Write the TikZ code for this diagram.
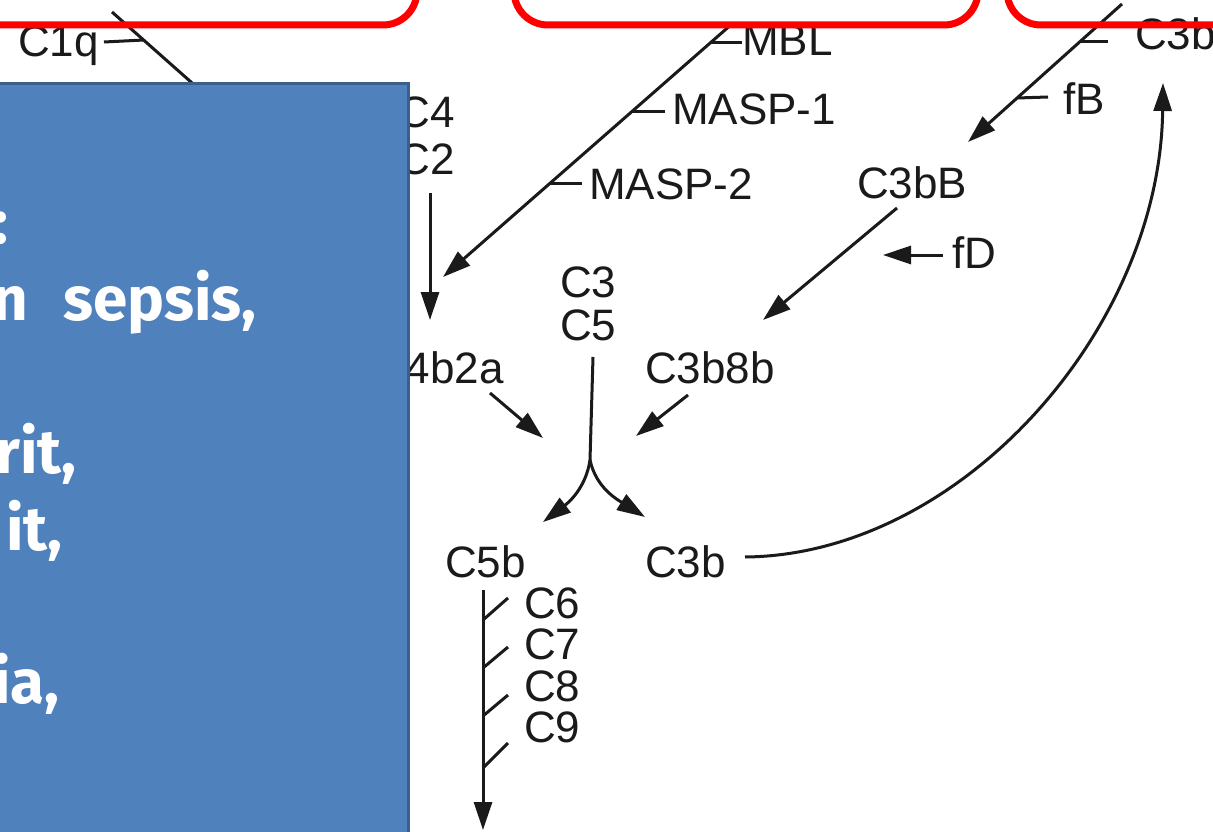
\documentclass[tikz,border=0pt]{standalone}
\usepackage{fontspec}
\setmainfont{Liberation Sans}
\newfontfamily\boxfont{Fira Sans}[WordSpace=2.4]
\usetikzlibrary{arrows.meta}
\definecolor{boxblue}{HTML}{4F81BD}
\definecolor{boxedge}{HTML}{3A5F8C}
\definecolor{ink}{HTML}{1A1A1A}
\begin{document}
\begin{tikzpicture}[x=1pt,y=-1pt,
  lbl/.style={font=\fontsize{44}{48}\selectfont, text=ink, inner sep=0pt, anchor=base west},
  lble/.style={lbl, anchor=base east},
  link/.style={draw=ink, line width=3pt},
  arr/.style={link, -{Triangle[length=28pt,width=18pt]}},
  redbox/.style={draw=red, line width=7pt, rounded corners=34pt},
  boxtxt/.style={font=\boxfont\bfseries\fontsize{62}{70}\selectfont, text=white, inner sep=0pt, anchor=base east}]

\useasboundingbox (0,0) rectangle (1213,832);
\clip (0,0) rectangle (1213,832);
\fill[white] (0,0) rectangle (1213,832);

% ---------- labels ----------
\node[lbl]  (c1q)   at (18,57)   {C1q};
\node[lbl]  (mbl)   at (742,56)  {MBL};
\node[lbl]  (masp1) at (672,125) {MASP-1};
\node[lbl]  (masp2) at (589,200) {MASP-2};
\node[lbl]  (c3btop) at (1135,50) {C3b};
\node[lbl]  (fb)    at (1063,115) {fB};
\node[lbl]  (c3bB)  at (857,198) {C3bB};
\node[lbl]  (fd)    at (952,268) {fD};
\node[lble] (c4)    at (455,128) {C4};
\node[lble] (c2)    at (455,175) {C2};
\node[lbl]  (c3)    at (560,297) {C3};
\node[lbl]  (c5)    at (560,340) {C5};
\node[lble] (c4b2a) at (504,383) {C4b2a};
\node[lbl]  (c3b8b) at (645,383) {C3b8b};
\node[lbl]  (c5b)   at (445,577) {C5b};
\node[lbl]  (c3b)   at (645,577) {C3b};
\node[lbl]  (c6)    at (524,618) {C6};
\node[lbl]  (c7)    at (524,659) {C7};
\node[lbl]  (c8)    at (524,701) {C8};
\node[lbl]  (c9)    at (524,742) {C9};

% ---------- coordinates ----------
\coordinate (c1qA) at (112,12);
\coordinate (c1qB) at (200,90);
\coordinate (c1qT) at (104,42);
\coordinate (c1qJ) at (144,40);

\coordinate (lecS) at (733,23);
\coordinate (lecE) at (443,277);
\coordinate (mblT) at (742,43);  \coordinate (mblJ) at (711,43);
\coordinate (m1T) at (665,112);  \coordinate (m1J) at (631,112);
\coordinate (m2T) at (582,183);  \coordinate (m2J) at (550,183);

\coordinate (altS) at (1122,4);
\coordinate (altE) at (968,142);
\coordinate (c3tT) at (1108,42); \coordinate (c3tJ) at (1080,42);
\coordinate (fbT) at (1048,97);  \coordinate (fbJ) at (1017,98);

\coordinate (bbS) at (897,208);
\coordinate (bbE) at (763,320);
\coordinate (fdS) at (943,255);
\coordinate (fdE) at (883,255);

\coordinate (cS) at (430,193);
\coordinate (cE) at (430,320);

\coordinate (ytop) at (593,357);
\coordinate (yj)   at (590,460);
\coordinate (yl)   at (543,522);
\coordinate (yr)   at (645,517);

\coordinate (cvS) at (490,393);
\coordinate (cvE) at (543,438);
\coordinate (c8S) at (688,395);
\coordinate (c8E) at (636,436);

\coordinate (loopS) at (745,557);
\coordinate (loopE) at (1163,83);

\coordinate (macS) at (483,590);
\coordinate (macE) at (483,830);
\coordinate (t6A) at (483,620); \coordinate (t6B) at (508,598);
\coordinate (t7A) at (483,668); \coordinate (t7B) at (508,647);
\coordinate (t8A) at (483,716); \coordinate (t8B) at (508,695);
\coordinate (t9A) at (483,768); \coordinate (t9B) at (508,743);

% ---------- connectors ----------
\draw[link] (c1qA) -- (c1qB);
\draw[link] (c1qT) -- (c1qJ);

\draw[arr] (lecS) -- (lecE);
\draw[link] (mblT) -- (mblJ);
\draw[link] (m1T) -- (m1J);
\draw[link] (m2T) -- (m2J);

\draw[arr] (altS) -- (altE);
\draw[link] (c3tT) -- (c3tJ);
\draw[link] (fbT) -- (fbJ);

\draw[arr] (bbS) -- (bbE);
\draw[arr] (fdS) -- (fdE);

\draw[arr] (cS) -- (cE);

\draw[link] (ytop) -- (yj);
\draw[arr] (yj) .. controls (586,488) and (568,503) .. (yl);
\draw[arr] (yj) .. controls (596,488) and (618,500) .. (yr);

\draw[arr] (cvS) -- (cvE);
\draw[arr] (c8S) -- (c8E);

\draw[arr] (loopS) .. controls (960,555) and (1160,330) .. (loopE);

\draw[arr] (macS) -- (macE);
\draw[link] (t6A) -- (t6B);
\draw[link] (t7A) -- (t7B);
\draw[link] (t8A) -- (t8B);
\draw[link] (t9A) -- (t9B);

% ---------- red frames ----------
\draw[redbox] (-60,-100) rectangle (417,25);
\draw[redbox] (514,-100) rectangle (978,25);
\draw[redbox] (1007,-100) rectangle (1300,25);

% ---------- blue panel ----------
\draw[fill=boxblue, draw=boxedge, line width=3pt] (-10,84) rectangle (408,850);
\node[boxtxt] (t1) at (9,243)   {:};
\node[boxtxt] (t2) at (257,320) {n sepsis,};
\node[boxtxt] (t3) at (77,473)  {rit,};
\node[boxtxt] (t4) at (63,550)  {it,};
\node[boxtxt] (t5) at (60,703)  {ia,};
\end{tikzpicture}
\end{document}
